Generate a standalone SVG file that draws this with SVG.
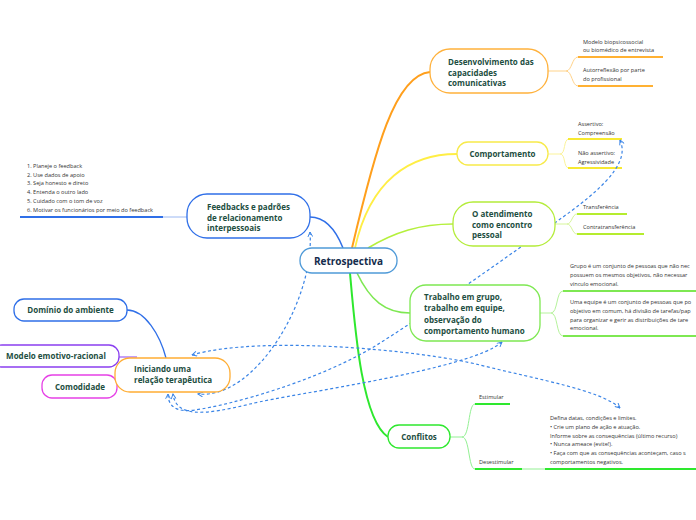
<svg xmlns="http://www.w3.org/2000/svg" width="696" height="520" viewBox="0 0 696 520">
<defs>
<style>
.nt{font-family:"Open Sans","Noto Sans",sans-serif;font-weight:bold;font-size:8px;fill:#1d4e3f}
.rt{font-family:"Open Sans","Noto Sans",sans-serif;font-weight:bold;font-size:10px;fill:#142c4c}
.st{font-family:"Open Sans","Noto Sans",sans-serif;font-size:5.6px;fill:#333}
.box{fill:#fff;stroke-width:1.3}
.dash{fill:none;stroke:#3a84e6;stroke-width:1.2;stroke-dasharray:3 2.5;marker-start:url(#ah);marker-end:url(#ah)}
.c{fill:none}
</style>
<marker id="ah" viewBox="0 0 10 10" refX="9" refY="5" markerWidth="6" markerHeight="6" orient="auto-start-reverse" markerUnits="userSpaceOnUse">
<path d="M1,1 L9,5 L1,9" fill="none" stroke="#3a84e6" stroke-width="1.6"/>
</marker>
</defs>
<rect width="696" height="520" fill="#fff"/>
<g id="connectors">
<path class="c" d="M343,248 C335,228 325,217 310,217" stroke="#2f6fe8" stroke-width="1.5"/>
<path class="c" d="M163,217 L187,217" stroke="#9bb8f2" stroke-width="1"/>
<path class="c" d="M20,217 L163,217" stroke="#2f6fe8" stroke-width="2"/>
<path class="c" d="M352,248 C375,150 395,75 430,72" stroke="#ff9f1c" stroke-width="2"/>
<path class="c" d="M548,71 L566,71 C572,71 572,57 578,57 M566,71 C572,71 572,86 578,86" stroke="#ffd38a" stroke-width="1"/>
<path class="c" d="M578,57 L663,57 M578,86 L653,86" stroke="#ffb133" stroke-width="2"/>
<path class="c" d="M355,248 C370,180 410,154 457,154" stroke="#ffee44" stroke-width="1.8"/>
<path class="c" d="M548,154 L560,154 C566,154 563,139 569,139 M560,154 C566,154 563,168 569,168" stroke="#fbf39a" stroke-width="1"/>
<path class="c" d="M568,139 L622,139 M568,168 L622,168" stroke="#f7e931" stroke-width="2"/>
<path class="c" d="M368,248 C395,232 420,224 453,224" stroke="#b5f03d" stroke-width="1.6"/>
<path class="c" d="M555,224 L567,224 C572,224 572,214 577,214 M567,224 C572,224 572,234 577,234" stroke="#d6f59a" stroke-width="1"/>
<path class="c" d="M577,214 L627,214 M577,234 L644,234" stroke="#b5ec2e" stroke-width="2"/>
<path class="c" d="M357,273 C370,300 385,313 410,313" stroke="#7ee852" stroke-width="1.6"/>
<path class="c" d="M540,313 L551,313 C558,313 556,291 563,291 M551,313 C558,313 556,336 563,336" stroke="#b6f39c" stroke-width="1"/>
<path class="c" d="M563,291 L696,291 M563,336 L696,336" stroke="#7ee852" stroke-width="2"/>
<path class="c" d="M350,273 C355,330 362,420 388,437" stroke="#2ee82e" stroke-width="2"/>
<path class="c" d="M450,437 L462,437 C470,437 468,404 475,404 M462,437 C470,437 468,469 475,469 M522,469 L545,469" stroke="#93f093" stroke-width="1"/>
<path class="c" d="M475,404 L510,404 M475,469 L522,469 M545,469 L696,469" stroke="#2ee82e" stroke-width="2"/>
<path class="c" d="M127,310 C145,310 160,335 166,358" stroke="#2f6fe8" stroke-width="1.3"/>
<path class="c" d="M119,357 L137,357" stroke="#8a3ff0" stroke-width="1"/>
<path class="dash" d="M310,232 C315,300 255,400 198,394"/>
<path class="dash" d="M502,342 C470,370 295,393 250,404 C205,415 176,418 173,394"/>
<path class="dash" d="M620,140 C628,158 615,180 563,217 C511,254 440,305 380,343 C320,381 230,405 195,410 C175,413 168,405 168,394"/>
<path class="dash" d="M192,355 C260,335 420,350 480,365 C540,380 600,390 620,408"/>
</g>
<g id="retrospectiva">
<rect class="box" x="300" y="248" width="97" height="25" rx="12" stroke="#4f9ad8" stroke-width="1.6"/>
<text class="rt" x="348.5" y="264.5" text-anchor="middle">Retrospectiva</text>
</g>
<g id="feedbacks">
<rect class="box" x="187" y="194" width="123" height="44" rx="20" stroke="#2f6fe8"/>
<text class="nt" x="207" y="209.5">Feedbacks e padrões</text>
<text class="nt" x="207" y="220.5">de relacionamento</text>
<text class="nt" x="207" y="231">interpessoais</text>
</g>
<g id="feedback-list">
<text class="st" x="27" y="168">1. Planeje o feedback</text>
<text class="st" x="27" y="176.7">2. Use dados de apoio</text>
<text class="st" x="27" y="185.4">3. Seja honesto e direto</text>
<text class="st" x="27" y="194.1">4. Entenda o outro lado</text>
<text class="st" x="27" y="202.8">5. Cuidado com o tom de voz</text>
<text class="st" x="27" y="211.5">6. Motivar os funcionários por meio do feedback</text>
</g>
<g id="desenvolvimento">
<rect class="box" x="430" y="49" width="118" height="44" rx="20" stroke="#ffb13b"/>
<text class="nt" x="448" y="65">Desenvolvimento das</text>
<text class="nt" x="448" y="76">capacidades</text>
<text class="nt" x="448" y="86">comunicativas</text>
</g>
<g id="desenvolvimento-children">
<text class="st" x="583" y="44">Modelo biopsicossocial</text>
<text class="st" x="583" y="52">ou biomédico de entrevista</text>
<text class="st" x="583" y="72">Autorreflexão por parte</text>
<text class="st" x="583" y="81">do profissional</text>
</g>
<g id="comportamento">
<rect class="box" x="457" y="142" width="91" height="23" rx="11" stroke="#f7ea4a"/>
<text class="nt" x="502.5" y="157" text-anchor="middle">Comportamento</text>
</g>
<g id="comportamento-children">
<text class="st" x="578" y="126">Assertivo:</text>
<text class="st" x="578" y="134.5">Compreensão</text>
<text class="st" x="578" y="155">Não assertivo:</text>
<text class="st" x="578" y="163.5">Agressividade</text>
</g>
<g id="atendimento">
<rect class="box" x="453" y="202" width="102" height="44" rx="20" stroke="#b4ec3a"/>
<text class="nt" x="472" y="217">O atendimento</text>
<text class="nt" x="472" y="227.5">como encontro</text>
<text class="nt" x="472" y="238">pessoal</text>
</g>
<g id="atendimento-children">
<text class="st" x="583" y="209">Transferência</text>
<text class="st" x="583" y="229">Contratransferência</text>
</g>
<g id="trabalho">
<rect class="box" x="410" y="285" width="130" height="56" rx="16" stroke="#7ee852"/>
<text class="nt" x="424" y="300">Trabalho em grupo,</text>
<text class="nt" x="424" y="311">trabalho em equipe,</text>
<text class="nt" x="424" y="322.5">observação do</text>
<text class="nt" x="424" y="334">comportamento humano</text>
</g>
<g id="trabalho-children">
<text class="st" x="570" y="268">Grupo é um conjunto de pessoas que não nec</text>
<text class="st" x="570" y="277">possuem os mesmos objetivos, não necessar</text>
<text class="st" x="570" y="285.5">vínculo emocional.</text>
<text class="st" x="570" y="304">Uma equipe é um conjunto de pessoas que po</text>
<text class="st" x="570" y="313">objetivo em comum, há divisão de tarefas/pap</text>
<text class="st" x="570" y="321.5">para organizar e gerir as distribuições de tare</text>
<text class="st" x="570" y="330">emocional.</text>
</g>
<g id="conflitos">
<rect class="box" x="388" y="425" width="62" height="23" rx="11" stroke="#2ee82e"/>
<text class="nt" x="419" y="440" text-anchor="middle">Conflitos</text>
</g>
<g id="conflitos-children">
<text class="st" x="479" y="399">Estimular</text>
<text class="st" x="479" y="464">Desestimular</text>
<text class="st" x="550" y="420">Defina datas, condições e limites.</text>
<text class="st" x="550" y="429">• Crie um plano de ação e atuação.</text>
<text class="st" x="550" y="437.5">Informe sobre as consequências (último recurso)</text>
<text class="st" x="550" y="446">• Nunca ameace (evite!).</text>
<text class="st" x="550" y="455">• Faça com que as consequências aconteçam, caso s</text>
<text class="st" x="550" y="463.5">comportamentos negativos.</text>
</g>
<g id="dominio">
<rect class="box" x="14" y="299" width="113" height="22" rx="10" stroke="#2f6fe8"/>
<text class="nt" x="70.5" y="313" text-anchor="middle">Domínio do ambiente</text>
</g>
<g id="modelo">
<rect class="box" x="-8" y="345" width="127" height="22" rx="10" stroke="#8a3ff0"/>
<text class="nt" x="56" y="359" text-anchor="middle">Modelo emotivo-racional</text>
</g>
<g id="comodidade">
<rect class="box" x="42" y="375" width="75" height="23" rx="10" stroke="#e640e6"/>
<text class="nt" x="80" y="390" text-anchor="middle">Comodidade</text>
</g>
<g id="iniciando">
<rect class="box" x="115" y="358" width="115" height="34" rx="15" stroke="#ffad33"/>
<text class="nt" x="134" y="372">Iniciando uma</text>
<text class="nt" x="134" y="383">relação terapêutica</text>
</g>
</svg>
